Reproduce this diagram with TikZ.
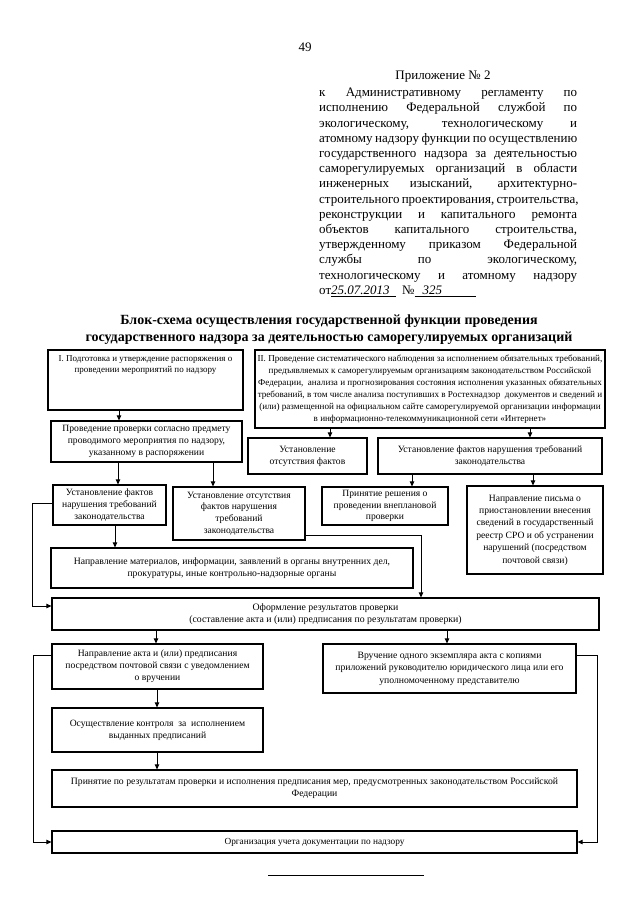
\documentclass[tikz,border=0pt]{standalone}
\usepackage{fontspec}
\setmainfont{Liberation Serif}
\usetikzlibrary{arrows.meta}
\newcommand\fs[2]{\fontsize{#1}{#2}\selectfont}
\newcommand\hl[1]{\makebox[258pt][s]{#1}}
\newcommand\mybox[7]{%
  \node[box, minimum width={#4-#2}, minimum height={#5-#3}, font=#6] (#1) at ({(#2+#4)/2},{(#3+#5)/2}) {#7};}
\begin{document}
\begin{tikzpicture}[x=1pt,y=-1pt,
  box/.style={draw, line width=1.2pt, inner sep=2pt, align=center},
  arr/.style={-{Triangle[length=5pt,width=4.5pt]}, line width=0.8pt},
  ln/.style={line width=0.8pt}]
\useasboundingbox[fill=white] (0,0) rectangle (640,905);

\node[font=\fs{13}{15}] (pg) at (305,47) {49};
\node[font=\fs{13}{15}] (pril) at (443,77) {Приложение № 2};
\node[anchor=north west, inner sep=0pt, align=left, font=\fs{13}{15.2}] (hdr) at (319,88) {%
\hl{к Административному регламенту по}\\
\hl{исполнению Федеральной службой по}\\
\hl{экологическому, технологическому и}\\
\hl{атомному надзору функции по осуществлению}\\
\hl{государственного надзора за деятельностью}\\
\hl{саморегулируемых организаций в области}\\
\hl{инженерных изысканий, архитектурно-}\\
\hl{строительного проектирования, строительства,}\\
\hl{реконструкции и капитального ремонта}\\
\hl{объектов капитального строительства,}\\
\hl{утвержденному приказом Федеральной}\\
\hl{службы по экологическому,}\\
\hl{технологическому и атомному надзору}\\
от\underline{\textit{25.07.2013}\hspace{6pt}}\ \ №\underline{\hspace{8pt}\textit{325}\hspace{34pt}}};

\node[font=\bfseries\fs{14}{17}, align=center] (title) at (329,330) {Блок-схема осуществления государственной функции проведения\\государственного надзора за деятельностью саморегулируемых организаций};

% first rows
\mybox{b1}{48}{350}{243}{410}{\fs{9}{10.8}}{}
\node[font=\fs{9}{10.8}, align=center, anchor=north, inner sep=0pt] (t1) at ([yshift=-6pt]b1.north) {I. Подготовка и утверждение распоряжения о\\проведении мероприятий по надзору};
\mybox{b2}{51}{421}{242}{462}{\fs{9.6}{11.8}}{Проведение проверки согласно предмету\\проводимого мероприятия по надзору,\\указанному в распоряжении}
\mybox{bII}{255}{350}{605}{428}{\fs{9.1}{12}}{II. Проведение систематического наблюдения за исполнением обязательных требований,\\предъявляемых к саморегулируемым организациям законодательством Российской\\Федерации, \ анализа и прогнозирования состояния исполнения указанных обязательных\\требований, в том числе анализа поступивших в Ростехнадзор \ документов и сведений и\\(или) размещенной на официальном сайте саморегулируемой организации информации\\в информационно-телекоммуникационной сети «Интернет»}
\mybox{b3a}{248}{438}{367}{474}{\fs{9.6}{11.8}}{Установление\\отсутствия фактов}
\mybox{b3b}{378}{438}{602}{474}{\fs{9.6}{11.8}}{Установление фактов нарушения требований\\законодательства}

\mybox{b4a}{53}{485}{166}{525}{\fs{9.6}{11.8}}{Установление фактов\\нарушения требований\\законодательства}
\mybox{b4b}{173}{487}{305}{540}{\fs{9.6}{11.8}}{Установление отсутствия\\фактов нарушения\\требований\\законодательства}
\mybox{b4c}{322}{487}{448}{525}{\fs{9.6}{11.8}}{Принятие решения о\\проведении внеплановой\\проверки}
\mybox{b4d}{467}{486}{603}{574}{\fs{9.6}{12.4}}{Направление письма о\\приостановлении внесения\\сведений в государственный\\реестр СРО и об устранении\\нарушений (посредством\\почтовой связи)}

\mybox{b5}{51}{548}{413}{588}{\fs{9.7}{12.5}}{Направление материалов, информации, заявлений в органы внутренних дел,\\прокуратуры, иные контрольно-надзорные органы}
\mybox{b6}{52}{598}{599}{630}{\fs{9.8}{11.5}}{Оформление результатов проверки\\(составление акта и (или) предписания по результатам проверки)}

\mybox{b7a}{52}{644}{263}{689}{\fs{9.6}{12}}{Направление акта и (или) предписания\\посредством почтовой связи с уведомлением\\о вручении}
\mybox{b7b}{323}{644}{576}{693}{\fs{9.7}{12.5}}{Вручение одного экземпляра акта с копиями\\приложений руководителю юридического лица или его\\уполномоченному представителю}
\mybox{b8}{52}{708}{263}{752}{\fs{9.6}{12}}{Осуществление контроля \ за \ исполнением\\выданных предписаний}
\mybox{b9}{52}{770}{577}{807}{\fs{9.7}{12.3}}{Принятие по результатам проверки и исполнения предписания мер, предусмотренных законодательством Российской\\Федерации}
\mybox{b10}{52}{831}{577}{853}{\fs{9.3}{11}}{Организация учета документации по надзору}

% connectors
\draw[arr] (b1.south -| 119,0) -- (b2.north -| 119,0);
\draw[arr] (bII.south -| 330,0) -- (b3a.north -| 330,0);
\draw[arr] (bII.south -| 530,0) -- (b3b.north -| 530,0);
\draw[arr] (b2.south -| 118,0) -- (b4a.north -| 118,0);
\draw[arr] (b2.south -| 213,0) -- (b4b.north -| 213,0);
\draw[arr] (b3b.south -| 412,0) -- (b4c.north -| 412,0);
\draw[arr] (b3b.south -| 533,0) -- (b4d.north -| 533,0);
\draw[arr] (b4a.south -| 115,0) -- (b5.north -| 115,0);
\draw[arr] (b4b.east |- 0,535) -- (421,535) -- (b6.north -| 421,0);
\draw[arr] (b4a.west |- 0,503) -- (32,503) -- (32,606) -- (b6.west |- 0,606);
\draw[arr] (b6.south -| 156,0) -- (b7a.north -| 156,0);
\draw[arr] (b6.south -| 447,0) -- (b7b.north -| 447,0);
\draw[arr] (b7a.south -| 157,0) -- (b8.north -| 157,0);
\draw[arr] (b8.south -| 157,0) -- (b9.north -| 157,0);
\draw[arr] (b7a.west |- 0,655) -- (33,655) -- (33,842) -- (b10.west |- 0,842);
\draw[arr] (b7b.east |- 0,655) -- (597,655) -- (597,842) -- (b10.east |- 0,842);

\draw[ln] (268,875) -- (424,875);
\end{tikzpicture}
\end{document}
